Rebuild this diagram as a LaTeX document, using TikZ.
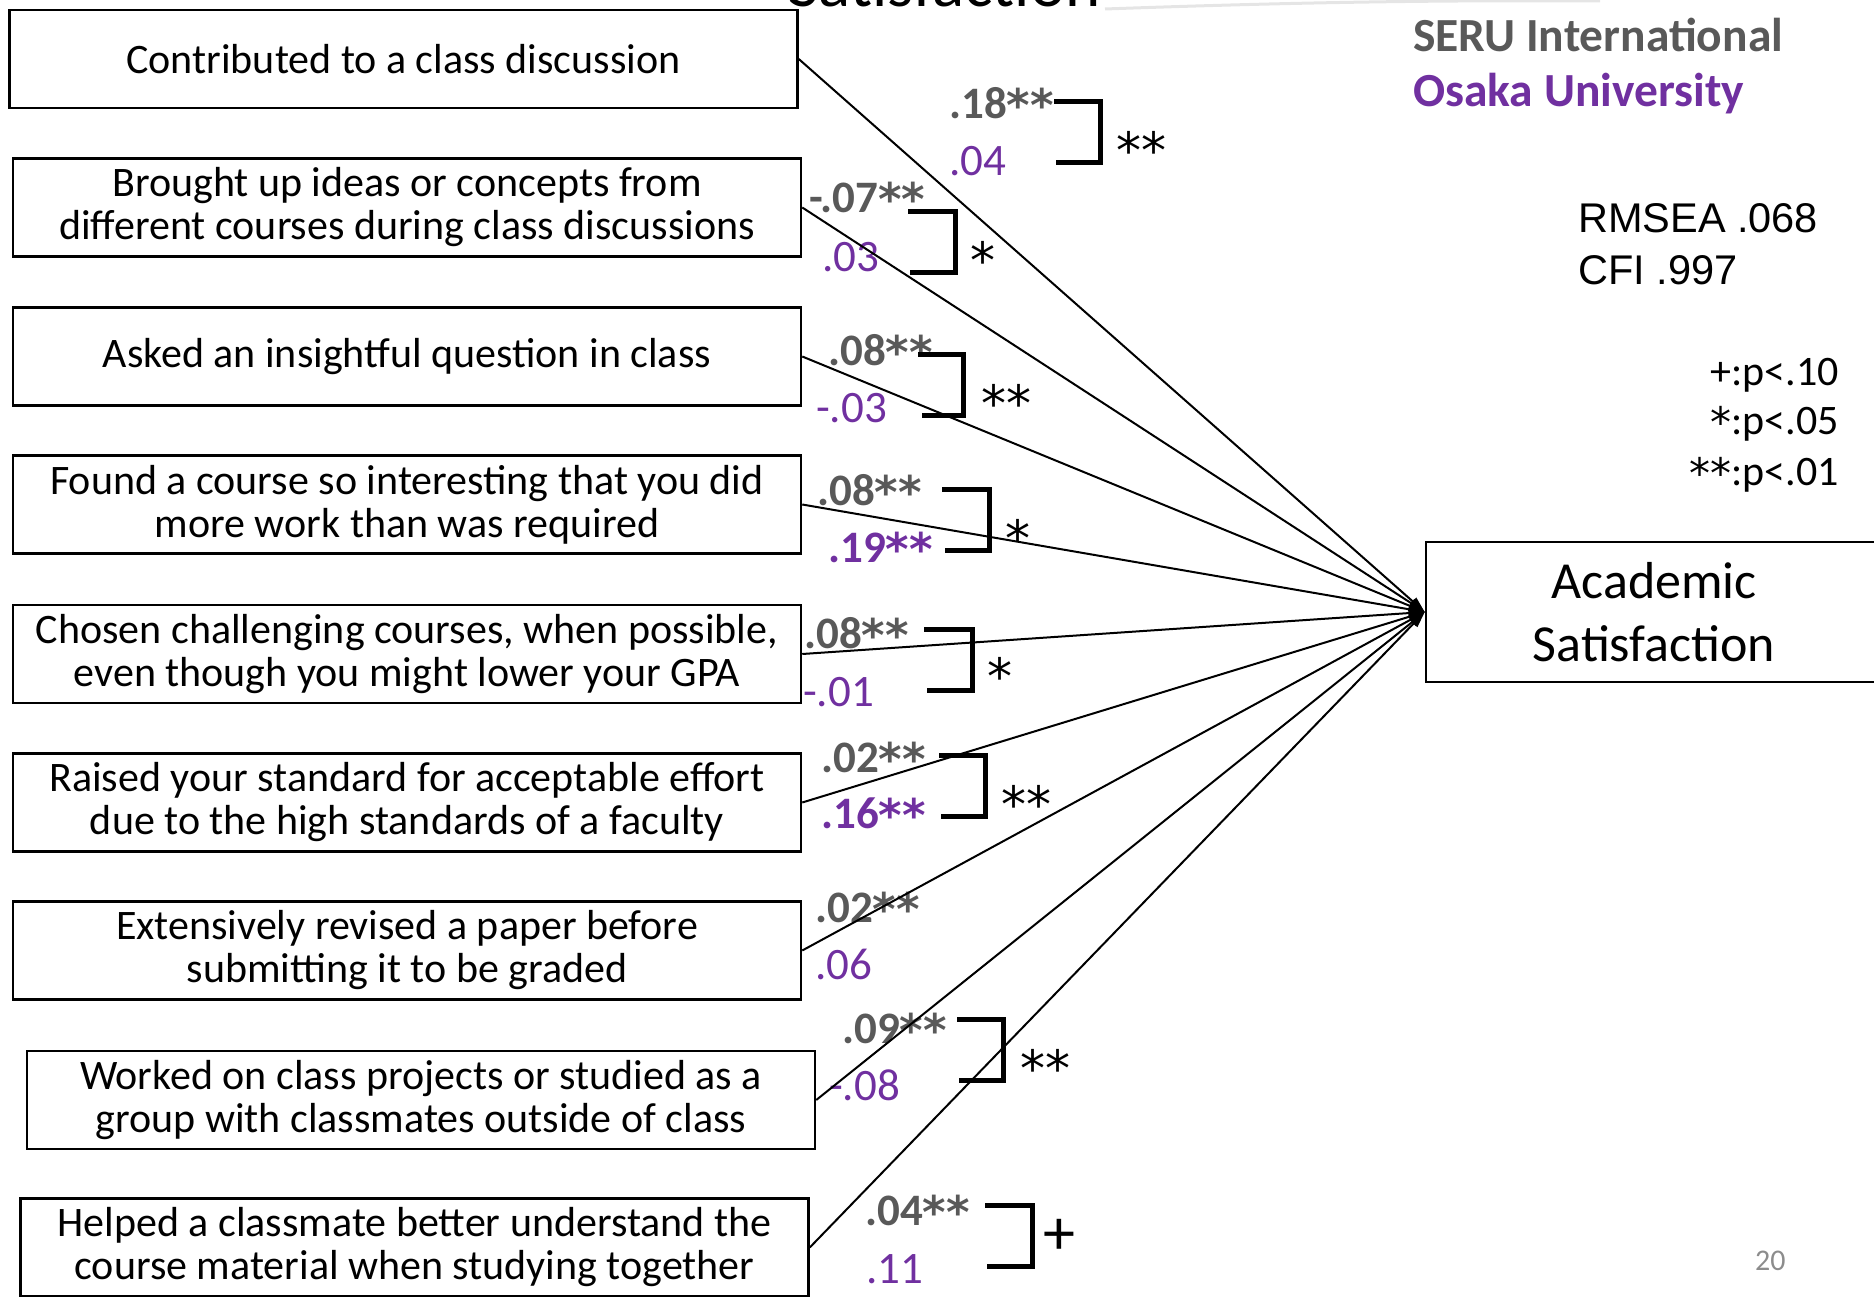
\documentclass[tikz,border=0pt]{standalone}
\usepackage{fontspec}
\setmainfont{Carlito}
\newfontfamily\arialf{Liberation Sans}
\newfontfamily\djv{DejaVu Sans}
\usetikzlibrary{arrows.meta}
\definecolor{sgray}{HTML}{595959}
\definecolor{opurple}{HTML}{7030A0}
\definecolor{pgray}{HTML}{8C8C8C}
\newcommand\stt{\raisebox{-3pt}{\djv *}}
\begin{document}
\begin{tikzpicture}[x=1pt,y=-1pt,
  box/.style={draw, line width=2.5pt, minimum width=788pt, minimum height=98pt, inner sep=0pt, align=center, font=\fontsize{42}{43}\selectfont},
  arr/.style={line width=2pt, -{Triangle[length=16pt,width=10pt]}},
  brk/.style={line width=5pt, line join=miter},
  cg/.style={anchor=base west, inner sep=0pt, text=sgray, font=\bfseries\fontsize{45}{45}\selectfont},
  cp/.style={anchor=base west, inner sep=0pt, text=opurple, font=\fontsize{45}{45}\selectfont},
  cpb/.style={anchor=base west, inner sep=0pt, text=opurple, font=\bfseries\fontsize{45}{45}\selectfont},
  sig/.style={anchor=base west, inner sep=0pt, font=\djv\fontsize{50}{50}\selectfont}]
\useasboundingbox (0,0) rectangle (1874,1297);
% title fragment and decoration
\node[anchor=base west, inner sep=0pt, font=\fontsize{67}{67}\selectfont] (title) at (788,7) {Satisfaction};
\draw[black!10, line width=3pt] (1105,9) .. controls (1300,2) and (1450,0) .. (1600,1);
% header texts
\node[anchor=base west, inner sep=0pt, text=sgray, font=\bfseries\fontsize{47.5}{47.5}\selectfont] (seru) at (1413,52) {SERU International};
\node[anchor=base west, inner sep=0pt, text=opurple, font=\bfseries\fontsize{47.5}{47.5}\selectfont] (osaka) at (1413,107) {Osaka University};
\node[anchor=base west, inner sep=0pt, font=\arialf\fontsize{41.5}{41.5}\selectfont] (rmsea) at (1578,233) {RMSEA .068};
\node[anchor=base west, inner sep=0pt, font=\arialf\fontsize{41.5}{41.5}\selectfont] (cfi) at (1578,285) {CFI .997};
\node[anchor=base east, inner sep=0pt, font=\fontsize{42}{42}\selectfont] (l1) at (1839,385) {+:p<.10};
\node[anchor=base east, inner sep=0pt, font=\fontsize{42}{42}\selectfont] (l2) at (1839,434) {\stt:p<.05};
\node[anchor=base east, inner sep=0pt, font=\fontsize{42}{42}\selectfont] (l3) at (1839,485) {\stt\stt:p<.01};
\node[anchor=base west, inner sep=0pt, text=pgray, font=\fontsize{30}{30}\selectfont] (pg) at (1755,1270) {20};
% boxes
\node[box] (b1) at (403.5,59) {Contributed to a class discussion};
\node[box] (b2) at (407,207.5) {Brought up ideas or concepts from\\different courses during class discussions};
\node[box] (b3) at (407,356.5) {Asked an insightful question in class};
\node[box] (b4) at (407,504.5) {Found a course so interesting that you did\\more work than was required};
\node[box] (b5) at (407,654) {Chosen challenging courses, when possible,\\even though you might lower your GPA};
\node[box] (b6) at (407,802.5) {Raised your standard for acceptable effort\\due to the high standards of a faculty};
\node[box] (b7) at (407,950.5) {Extensively revised a paper before\\submitting it to be graded};
\node[box] (b8) at (421,1100) {Worked on class projects or studied as a\\group with classmates outside of class};
\node[box] (b9) at (414.5,1247.5) {Helped a classmate better understand the\\course material when studying together};
\node[box, minimum width=456pt, minimum height=140pt, font=\fontsize{52}{63}\selectfont] (as) at (1654,612) {Academic\\Satisfaction};
% coefficients
\node[cg] (g1) at (949,119) {.18\stt\stt};  \node[cp] (p1) at (949,176) {.04};
\node[cg] (g2) at (809,213) {-.07\stt\stt}; \node[cp] (p2) at (822,272) {.03};
\node[cg] (g3) at (828,365) {.08\stt\stt};  \node[cp] (p3) at (816,422) {-.03};
\node[cg] (g4) at (817,505) {.08\stt\stt};  \node[cpb] (p4) at (828,562) {.19\stt\stt};
\node[cg] (g5) at (804,648) {.08\stt\stt};  \node[cp] (p5) at (803,706) {-.01};
\node[cg] (g6) at (821,772) {.02\stt\stt};  \node[cpb] (p6) at (821,828) {.16\stt\stt};
\node[cg] (g7) at (815,922) {.02\stt\stt};  \node[cp] (p7) at (815,979) {.06};
\node[cg] (g8) at (842,1043) {.09\stt\stt}; \node[cp] (p8) at (829,1100) {-.08};
\node[cg] (g9) at (865,1225) {.04\stt\stt}; \node[cp] (p9) at (866,1283) {.11};
% brackets
\draw[brk] (1054,102) -- (1100,102) -- (1100,163) -- (1056,163);
\draw[brk] (908,212) -- (955,212) -- (955,273) -- (910,273);
\draw[brk] (918,354) -- (963,354) -- (963,415) -- (922,415);
\draw[brk] (942,489) -- (989,489) -- (989,550) -- (945,550);
\draw[brk] (924,629) -- (972,629) -- (972,690) -- (927,690);
\draw[brk] (939,755) -- (985,755) -- (985,816) -- (941,816);
\draw[brk] (957,1019) -- (1003,1019) -- (1003,1080) -- (959,1080);
\draw[brk] (985,1205) -- (1032,1205) -- (1032,1266) -- (987,1266);
\node[sig] (s1) at (1116,169) {**};
\node[sig] (s2) at (970,279) {*};
\node[sig] (s3) at (981,421) {**};
\node[sig] (s4) at (1005,556) {*};
\node[sig] (s5) at (987,694) {*};
\node[sig] (s6) at (1001,822) {**};
\node[sig] (s8) at (1020,1086) {**};
\node[anchor=base west, inner sep=0pt, font=\fontsize{64}{64}\selectfont] (s9) at (1043,1254) {+};
% arrows
\foreach \b in {b1,b2,b3,b4,b5,b6,b7,b8,b9}
  \draw[arr] (\b.east) -- (as.west);
\end{tikzpicture}
\end{document}
